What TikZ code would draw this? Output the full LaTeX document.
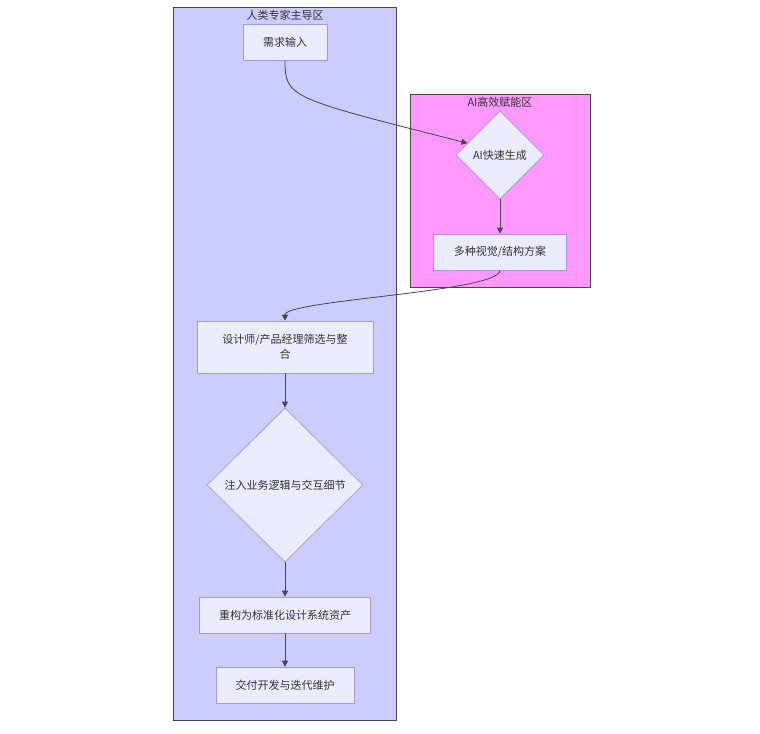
\documentclass[tikz,border=0pt]{standalone}
\usepackage{fontspec}
\setmainfont{Noto Sans CJK SC}
\usetikzlibrary{shapes.geometric,arrows.meta}
\definecolor{nodeFill}{HTML}{ECECFF}
\definecolor{nodeLine}{HTML}{A896E4}
\definecolor{humanFill}{HTML}{CCCCFF}
\definecolor{aiFill}{HTML}{FF99FF}
\definecolor{inkGray}{HTML}{333333}

\begin{document}
\begin{tikzpicture}
         [x=0.75pt,y=-0.75pt,
          every node/.style={font=\fontsize{8.25pt}{11pt}\selectfont,text=inkGray},
          box/.style={rectangle,draw=nodeLine,fill=nodeFill,line width=0.5pt,align=center},
          choice/.style={diamond,draw=nodeLine,fill=nodeFill,line width=0.5pt,inner sep=0pt},
          zone/.style={draw=inkGray!90,line width=0.75pt},
          edge/.style={draw=inkGray!90,line width=0.6pt,-{Triangle[length=4.5pt,width=4.5pt]}}]
         \fill[white] (0,0) rectangle (760,733);
         \useasboundingbox (0,0) rectangle (760,733);

         % zones
         \draw[zone,fill=humanFill] (173,7) rectangle (396,720);
         \draw[zone,fill=aiFill] (410,94) rectangle (590,287);
         \node (lHuman) at (285,15) {人类专家主导区};
         \node (lAI) at (500,102) {AI高效赋能区};

         % steps
         \node[box,minimum width=63pt,minimum height=27pt] (nInput) at (285,42) {需求输入};
         \node[choice,minimum width=66pt,minimum height=66pt] (nAIGen) at (500,155) {AI快速生成};
         \node[box,minimum width=99.75pt,minimum height=27pt] (nSchemes) at (500,252) {多种视觉/结构方案};
         \node[box,minimum width=132pt,minimum height=39pt] (nScreen) at (285,347) {设计师/产品经理筛选与整\\合};
         \node[choice,minimum width=117pt,minimum height=115.5pt] (nLogic) at (285,485) {注入业务逻辑与交互细节};
         \node[box,minimum width=128.25pt,minimum height=27pt] (nRebuild) at (285,615) {重构为标准化设计系统资产};
         \node[box,minimum width=103.5pt,minimum height=27pt] (nDeliver) at (285,685) {交付开发与迭代维护};

         \draw[edge] (nInput.south) .. controls (285,98) and (290,98) .. (nAIGen.160);
         \draw[edge] (nSchemes.south) .. controls (500,292) and (285,300) .. (nScreen.north);
         \foreach \from/\to in {nAIGen/nSchemes,nScreen/nLogic,nLogic/nRebuild,nRebuild/nDeliver}
             \draw[edge] (\from) -- (\to);

     \end{tikzpicture}
\end{document}
